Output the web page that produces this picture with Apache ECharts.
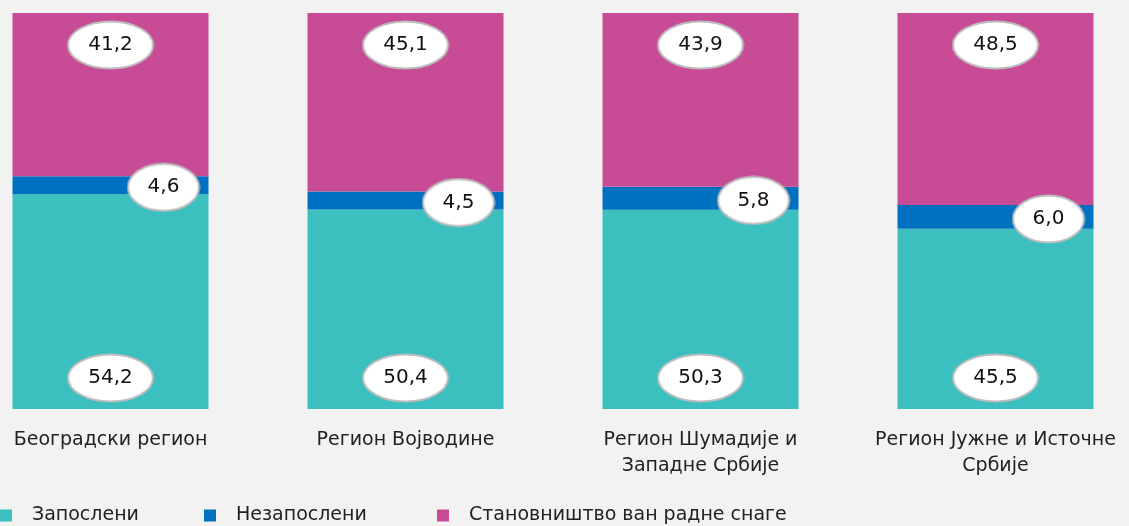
<!DOCTYPE html>
<html>
<head>
<meta charset="utf-8">
<script src="https://cdn.jsdelivr.net/npm/echarts@6/dist/echarts.min.js"></script>
<style>
  html, body { margin: 0; padding: 0; background: #f2f2f2; overflow: hidden; }
  /* plot is wider than the window: the first band starts off-screen */
  #chart { width: 1180px; height: 526px; margin-left: -37px; }
</style>
</head>
<body>
<div id="chart"></div>
<script>
const regions = ['Београдски регион', 'Регион Војводине', 'Регион Шумадије и\nЗападне Србије', 'Регион Јужне и Источне\nСрбије']
const employed = [54.2, 50.4, 50.3, 45.5]
const unemployed = [4.6, 4.5, 5.8, 6.0]
const outside = [41.2, 45.1, 43.9, 48.5]
const seriesNames = ['Запослени', 'Незапослени', 'Становништво ван радне снаге']

const FONT = 'DejaVu Sans'
const SHIFT = 37

// white ellipse, used as label background
function ellipse(w, h) {
  const c = document.createElement('canvas')
  c.width = w; c.height = h
  const ctx = c.getContext('2d')
  ctx.beginPath()
  ctx.ellipse(w / 2, h / 2, w / 2 - 1.5, h / 2 - 1.5, 0, 0, Math.PI * 2)
  ctx.fillStyle = '#ffffff'
  ctx.fill()
  ctx.lineWidth = 2
  ctx.strokeStyle = '#bdbdbd'
  ctx.stroke()
  return c
}

const fmt = p => p.value.toFixed(1).replace('.', ',')
function lbl(w, h, extra) {
  return Object.assign({
    show: true,
    formatter: fmt,
    color: '#111',
    fontSize: 20,
    fontFamily: FONT,
    width: w,
    height: h,
    lineHeight: h,
    align: 'center',
    padding: 0,
    backgroundColor: { image: ellipse(w, h) }
  }, extra)
}

function legendAt(name, x) {
  return {
    data: [name],
    left: x + SHIFT,
    top: 506,
    padding: 0,
    itemWidth: 12,
    itemHeight: 12,
    icon: 'rect',
    textStyle: { fontFamily: FONT, fontSize: 19, color: '#222', padding: [0, 0, 0, 15] }
  }
}

const chart = echarts.init(document.getElementById('chart'))
chart.setOption({
  backgroundColor: '#f2f2f2',
  animation: false,
  textStyle: { fontFamily: FONT },
  grid: { left: 0, right: 0, top: 13, bottom: 117 },
  xAxis: {
    type: 'category',
    data: regions,
    axisLine: { show: false },
    axisTick: { show: false },
    axisLabel: { color: '#222', fontFamily: FONT, fontSize: 19, lineHeight: 26, margin: 18, verticalAlign: 'top', interval: 0 }
  },
  yAxis: { type: 'value', min: 0, max: 100, show: false },
  legend: [legendAt(seriesNames[0], 0), legendAt(seriesNames[1], 204), legendAt(seriesNames[2], 437)],
  series: [
    {
      name: seriesNames[0], type: 'bar', stack: 's', barWidth: 196,
      itemStyle: { color: '#3bbfbf' }, data: employed,
      label: lbl(88, 50, { position: 'insideBottom', distance: 6 })
    },
    {
      name: seriesNames[1], type: 'bar', stack: 's',
      itemStyle: { color: '#0070c0' }, data: unemployed,
      label: lbl(74, 50, { position: 'inside', offset: [53, 2] })
    },
    {
      name: seriesNames[2], type: 'bar', stack: 's',
      itemStyle: { color: '#c84b96' }, data: outside,
      label: lbl(88, 50, { position: 'insideTop', distance: 7 })
    }
  ]
})
</script>
</body>
</html>
